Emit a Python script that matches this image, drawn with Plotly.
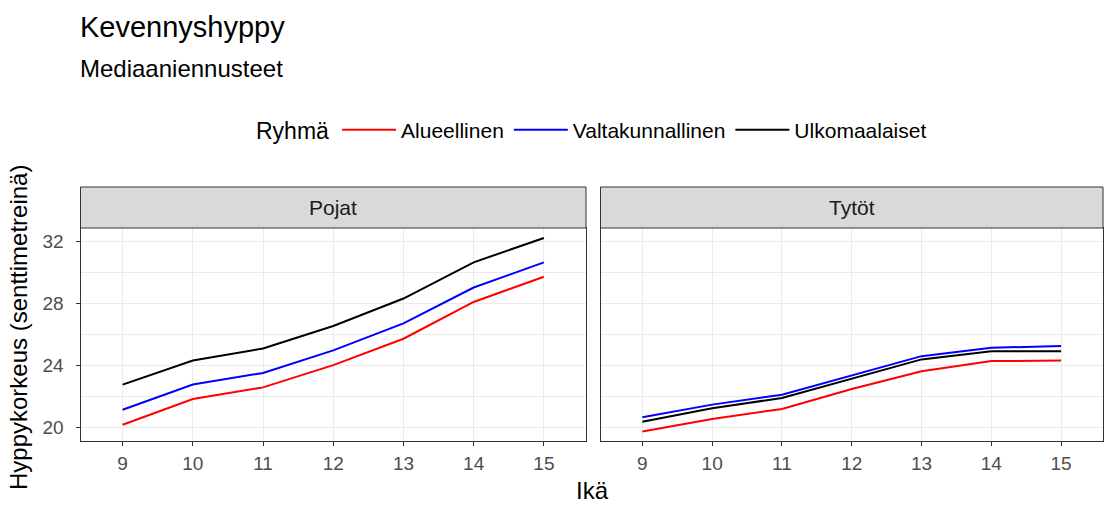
import plotly.graph_objects as go

W, H = 1108, 513

# Ages on the x axis (discrete)
ages = [9, 10, 11, 12, 13, 14, 15]

# Median predictions, boys (Pojat)
pojat_alueellinen = [20.19, 21.85, 22.60, 24.03, 25.73, 28.10, 29.72]
pojat_valtakunnallinen = [21.16, 22.78, 23.53, 24.98, 26.72, 29.03, 30.65]
pojat_ulkomaalaiset = [22.78, 24.33, 25.10, 26.55, 28.32, 30.65, 32.22]

# Median predictions, girls (Tytöt)
tytot_alueellinen = [19.76, 20.56, 21.21, 22.50, 23.64, 24.29, 24.33]
tytot_valtakunnallinen = [20.67, 21.49, 22.13, 23.36, 24.61, 25.15, 25.26]
tytot_ulkomaalaiset = [20.39, 21.25, 21.92, 23.17, 24.40, 24.93, 24.93]

groups = ["Alueellinen", "Valtakunnallinen", "Ulkomaalaiset"]
colors = {"Alueellinen": "#ff0000", "Valtakunnallinen": "#0000ff", "Ulkomaalaiset": "#000000"}
panels = ["Pojat", "Tytöt"]
series = {
    "Pojat": [pojat_alueellinen, pojat_valtakunnallinen, pojat_ulkomaalaiset],
    "Tytöt": [tytot_alueellinen, tytot_valtakunnallinen, tytot_ulkomaalaiset],
}
y_ticks = [20, 24, 28, 32]

FONT = "Liberation Sans, Arial, Helvetica, sans-serif"

def px_x(p):
    return p / W

def px_y(p):
    return 1 - p / H

left_dom = [px_x(80.5), px_x(586)]
right_dom = [px_x(600.5), px_x(1103)]
plot_top, plot_bot = 228, 440.5
strip_top = 187
y_dom = [px_y(plot_bot), px_y(plot_top)]

fig = go.Figure()

for i, panel in enumerate(panels):
    xa = "x" if i == 0 else "x2"
    ya = "y" if i == 0 else "y2"
    for g, vals in zip(groups, series[panel]):
        fig.add_trace(go.Scatter(
            x=ages, y=vals, mode="lines", name=g,
            line=dict(color=colors[g], width=2),
            legendgroup=g, showlegend=(i == 0),
            xaxis=xa, yaxis=ya,
        ))

axis_common = dict(
    showline=True, linecolor="#333333", linewidth=1, mirror=True,
    gridcolor="#ebebeb", gridwidth=1, zeroline=False,
    tickfont=dict(family=FONT, size=19, color="#4d4d4d"),
    ticks="outside", ticklen=4, tickcolor="#333333", tickwidth=1,
)

for i, dom in enumerate([left_dom, right_dom]):
    sfx = "" if i == 0 else "2"
    fig.layout["xaxis" + sfx] = dict(
        axis_common, domain=dom, range=[8.4, 15.6],
        tickmode="array", tickvals=ages, ticktext=[str(a) for a in ages],
        anchor="y" + sfx, ticklabelstandoff=2,
    )
    fig.layout["yaxis" + sfx] = dict(
        axis_common, domain=y_dom, range=[19.18, 32.86],
        tickmode="array", tickvals=y_ticks,
        minor=dict(tickmode="linear", tick0=18, dtick=2, showgrid=True,
                   gridcolor="#ebebeb", gridwidth=1, ticks=""),
        anchor="x" + sfx,
        showticklabels=(i == 0),
        ticks="outside" if i == 0 else "",
        ticklabelstandoff=8,
    )

# Facet strips
shapes = []
annotations = []
for dom, panel in zip([left_dom, right_dom], panels):
    shapes.append(dict(
        type="rect", xref="paper", yref="paper",
        x0=dom[0], x1=dom[1], y0=y_dom[1], y1=px_y(strip_top),
        fillcolor="#d9d9d9", line=dict(color="#333333", width=1), layer="above",
    ))
    annotations.append(dict(
        text=panel, xref="paper", yref="paper",
        x=(dom[0] + dom[1]) / 2, y=px_y((strip_top + plot_top) / 2),
        xanchor="center", yanchor="middle", showarrow=False,
        font=dict(family=FONT, size=21, color="#1a1a1a"),
    ))

# Subtitle and axis titles
annotations.append(dict(
    text="Mediaaniennusteet", xref="paper", yref="paper",
    x=px_x(78), y=px_y(68), xanchor="left", yanchor="middle", showarrow=False,
    font=dict(family=FONT, size=24, color="#000000"),
))
annotations.append(dict(
    text="Ikä", xref="paper", yref="paper",
    x=px_x(593), y=px_y(490), xanchor="center", yanchor="middle", showarrow=False,
    font=dict(family=FONT, size=24, color="#000000"),
))
annotations.append(dict(
    text="Hyppykorkeus (senttimetreinä)", xref="paper", yref="paper",
    x=px_x(18), y=px_y(328), xanchor="center", yanchor="middle", showarrow=False,
    textangle=-90,
    font=dict(family=FONT, size=24, color="#000000"),
))

fig.update_layout(
    width=W, height=H,
    margin=dict(l=0, r=0, t=0, b=0),
    paper_bgcolor="white", plot_bgcolor="white",
    font=dict(family=FONT, color="#000000"),
    title=dict(
        text="Kevennyshyppy", x=px_x(80), xanchor="left",
        y=px_y(27), yanchor="middle", yref="paper",
        font=dict(family=FONT, size=29, color="#000000"),
    ),
    legend=dict(
        orientation="h", x=px_x(254), xanchor="left",
        y=px_y(130), yanchor="middle",
        title=dict(text="Ryhmä", font=dict(family=FONT, size=23, color="#000000"), side="left"),
        font=dict(family=FONT, size=21, color="#000000"),
        itemwidth=54,
        bgcolor="rgba(0,0,0,0)",
    ),
    shapes=shapes,
    annotations=annotations,
)

fig.write_html("out.html")
